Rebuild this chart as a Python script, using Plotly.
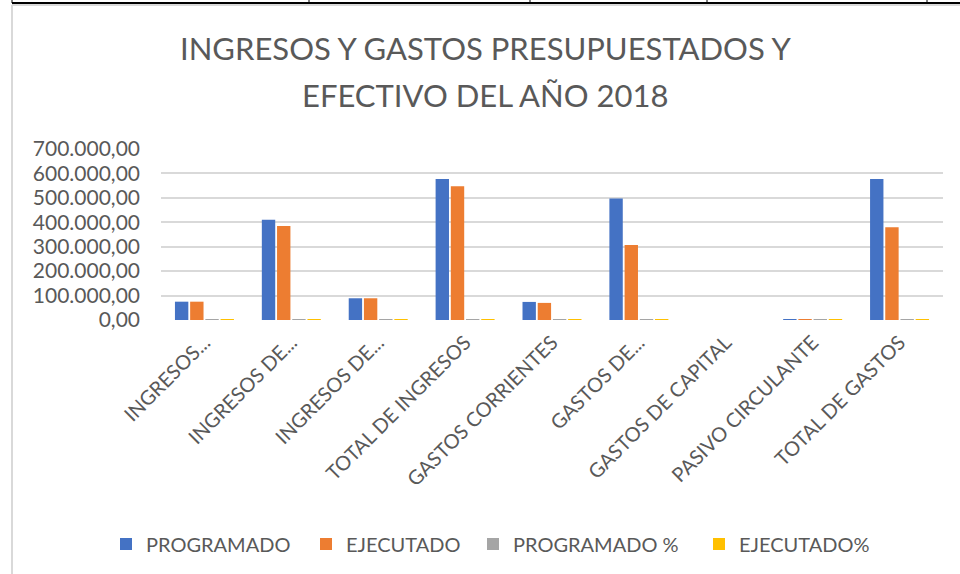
import plotly.graph_objects as go

categorias = ["INGRESOS...", "INGRESOS DE...", "INGRESOS DE...", "TOTAL DE INGRESOS",
              "GASTOS CORRIENTES", "GASTOS DE...", "GASTOS DE CAPITAL",
              "PASIVO CIRCULANTE", "TOTAL DE GASTOS"]
# ids unicos porque hay dos "INGRESOS DE..."
ids = ["c1", "c2", "c3", "c4", "c5", "c6", "c7", "c8", "c9"]

programado = [75000, 410000, 89000, 577000, 74000, 497000, 0, 1200, 577000]
ejecutado = [75000, 385000, 89000, 548000, 70000, 307000, 0, 1000, 380000]
programado_pct = [100, 100, 100, 100, 100, 100, 0, 100, 100]
ejecutado_pct = [100, 94, 100, 95, 95, 62, 0, 83, 66]

W, H = 960, 574
ML, MR, MT, MB = 161, 17, 149, 254
PW, PH = W - ML - MR, H - MT - MB

def px(x):
    return (x - ML) / PW

def py(y):
    return (H - MB - y) / PH

font_fam = "Lato, 'Open Sans', sans-serif"
gris = "#595959"

fig = go.Figure()
series = [("PROGRAMADO", programado, "#4472C4", "legend", 106),
          ("EJECUTADO", ejecutado, "#ED7D31", "legend2", 306),
          ("PROGRAMADO %", programado_pct, "#A5A5A5", "legend3", 473),
          ("EJECUTADO%", ejecutado_pct, "#FFC000", "legend4", 699)]
legends = {}
for name, vals, color, leg, lx in series:
    fig.add_trace(go.Bar(x=ids, y=vals, name=name, marker_color=color,
                         marker_line_width=0, legend=leg))
    legends[leg] = dict(orientation="h", xref="container", yref="container",
                        x=lx / W, xanchor="left", y=1 - 544 / H, yanchor="middle",
                        font=dict(size=20, color=gris), itemwidth=30,
                        bgcolor="rgba(0,0,0,0)")

fig.update_layout(
    width=W, height=H,
    margin=dict(l=ML, r=MR, t=MT, b=MB),
    paper_bgcolor="white", plot_bgcolor="white",
    barmode="group", bargap=0.3, bargroupgap=0.12,
    separators=",.",
    font=dict(family=font_fam, color=gris),
    showlegend=True,
    **legends,
)

# titulo en dos lineas
for texto, yy in [("INGRESOS Y GASTOS PRESUPUESTADOS Y", 48), ("EFECTIVO DEL AÑO 2018", 95)]:
    fig.add_annotation(text=texto, xref="paper", yref="paper", x=px(485), y=py(yy),
                       xanchor="center", yanchor="middle", showarrow=False,
                       font=dict(size=31, color=gris, family=font_fam))

fig.update_xaxes(tickvals=ids, ticktext=categorias, tickangle=-45,
                 tickfont=dict(size=20, color=gris), showgrid=False,
                 showline=False, ticks="", ticklabelstandoff=6)
fig.update_yaxes(range=[0, 700000], dtick=100000, tickformat=",.2f",
                 tickfont=dict(size=21, color=gris), gridcolor="#d9d9d9",
                 gridwidth=1.5, zeroline=False, showline=False, ticks="",
                 ticklabelstandoff=20)

# marco del grafico y bordes de la tabla de arriba
shapes = [
    dict(type="line", x0=px(12), x1=px(12), y0=py(5), y1=py(H), line=dict(color="#d9d9d9", width=2)),
    dict(type="line", x0=px(12), x1=px(W), y0=py(5), y1=py(5), line=dict(color="#d9d9d9", width=2)),
    dict(type="line", x0=px(12), x1=px(W), y0=py(3), y1=py(3), line=dict(color="black", width=2)),
]
for xv in [12, 309, 530, 707, 927]:
    shapes.append(dict(type="line", x0=px(xv), x1=px(xv), y0=py(0), y1=py(3),
                       line=dict(color="black", width=1)))
for s in shapes:
    s.update(xref="paper", yref="paper", layer="below")
fig.update_layout(shapes=shapes)

fig.write_html("out.html", config={"displayModeBar": False},
               post_script="document.body.style.margin='0';")
